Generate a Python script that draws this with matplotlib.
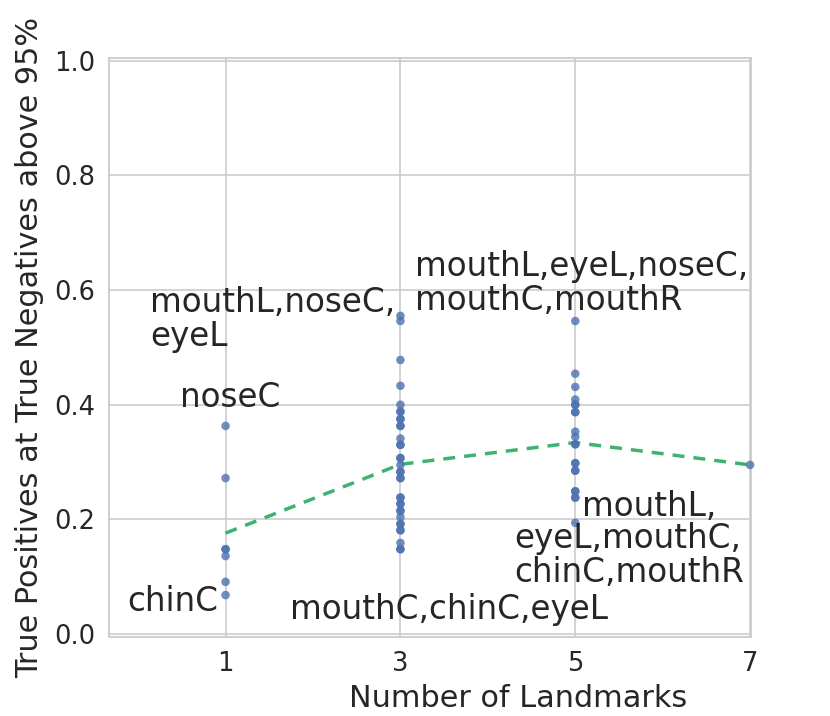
import matplotlib
matplotlib.use("Agg")
import matplotlib.pyplot as plt
import numpy as np

# ---- data ----
landmarks = [1, 3, 5, 7]
tp_k1 = [0.363, 0.272, 0.148, 0.148, 0.136, 0.091, 0.068]
tp_k3 = [0.555, 0.546, 0.478, 0.433, 0.400, 0.388, 0.375, 0.363, 0.341, 0.330,
         0.307, 0.295, 0.283, 0.272, 0.238, 0.227, 0.215, 0.204, 0.192, 0.181,
         0.159, 0.148,
         0.388, 0.375, 0.363, 0.307, 0.283, 0.272, 0.238, 0.227, 0.215, 0.192,
         0.181, 0.148, 0.330]
tp_k5 = [0.546, 0.454, 0.431, 0.409, 0.400, 0.387, 0.353, 0.344, 0.331, 0.298,
         0.285, 0.249, 0.238, 0.194,
         0.400, 0.387, 0.331, 0.298, 0.285, 0.249, 0.238]
tp_k7 = [0.295]
mean_tp = [0.176, 0.296, 0.334, 0.295]

xticks = [1, 3, 5, 7]
yticks = [0.0, 0.2, 0.4, 0.6, 0.8, 1.0]

labels = ["noseC", "mouthL,noseC,\neyeL", "chinC", "mouthC,chinC,eyeL",
          "mouthL,eyeL,noseC,\nmouthC,mouthR", "mouthL,",
          "eyeL,mouthC,\nchinC,mouthR"]
label_x = [0.48, 0.135, -0.13, 1.735, 3.165, 5.075, 4.30]
label_y = [0.396, 0.502, 0.040, 0.026, 0.565, 0.206, 0.091]

# ---- style ----
TXT = "#262626"
GRID = "#cccccc"
plt.rcParams["font.family"] = ["DejaVu Sans"]

fig = plt.figure(figsize=(8.30, 7.16), dpi=100)
ax = fig.add_axes([0.1317, 0.1103, 0.9048 - 0.1317, 0.9194 - 0.1103])

groups = [tp_k1, tp_k3, tp_k5, tp_k7]
for k, vals in zip(landmarks, groups):
    ax.scatter([k] * len(vals), vals, s=38, color="#4C72B0", alpha=0.8,
               edgecolors="none", zorder=3, clip_on=False)

ax.plot(landmarks, mean_tp, color="#3CB371", lw=2.5, dashes=(3.45, 2.6),
        zorder=2)

for t, x, y in zip(labels, label_x, label_y):
    ax.text(x, y, t, fontsize=23.5, color=TXT, ha="left", va="baseline",
            linespacing=1.03, zorder=4)

ax.set_xlim(-0.33, 7.01)
ax.set_ylim(-0.0052, 1.0052)
ax.set_xticks(xticks)
ax.set_xticklabels([str(v) for v in xticks])
ax.set_yticks(yticks)
ax.set_yticklabels([f"{v:.1f}" for v in yticks])
ax.tick_params(axis="both", length=0, labelsize=18.5, labelcolor=TXT, pad=10)
ax.grid(True, color=GRID, lw=1.2)
ax.set_axisbelow(True)
for sp in ax.spines.values():
    sp.set_color(GRID)
    sp.set_linewidth(1.3)

ax.set_xlabel("Number of Landmarks", fontsize=21.8, color=TXT)
ax.xaxis.set_label_coords(0.637, -0.081)
ax.set_ylabel("True Positives at True Negatives above 95%", fontsize=21.8,
              color=TXT, labelpad=7)

fig.savefig("out.png", dpi=100)
